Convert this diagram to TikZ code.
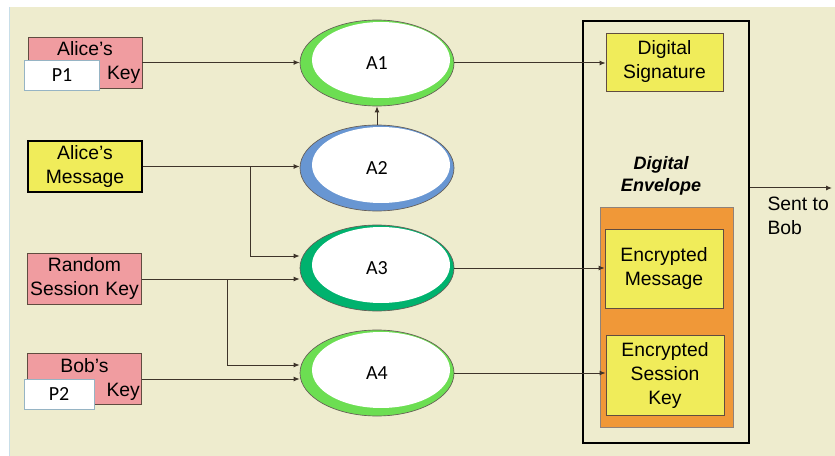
\documentclass[tikz,border=0pt]{standalone}
\usepackage{fontspec}
\setmainfont{Liberation Sans}
\newfontfamily\calfont{Carlito}
\usetikzlibrary{shapes.geometric,arrows.meta}

\definecolor{bgcream}{RGB}{238,236,206}
\definecolor{edgeblue}{RGB}{200,222,232}
\definecolor{keypink}{RGB}{240,156,160}
\definecolor{sigyellow}{RGB}{240,236,90}
\definecolor{envorange}{RGB}{240,152,56}
\definecolor{ringgreen}{RGB}{108,222,82}
\definecolor{ringteal}{RGB}{0,178,110}
\definecolor{ringblue}{RGB}{104,150,210}
\definecolor{boxline}{RGB}{96,76,64}
\definecolor{wireline}{RGB}{62,52,42}
\definecolor{pline}{RGB}{150,180,196}

\tikzset{every picture/.style={line width=0.75pt}}
\tikzset{
  lab/.style={font=\fontsize{14.5}{18}\selectfont},
  callab/.style={font=\fontsize{15}{18}\selectfont\calfont},
  keybox/.style={lab, draw=boxline, line width=0.6pt, fill=keypink, inner sep=1pt,
    align=center, text width=83pt, minimum width=85.5pt, minimum height=38.25pt},
  yelbox/.style={keybox, fill=sigyellow},
  pbox/.style={callab, draw=pline, fill=white, line width=0.75pt, inner sep=0pt,
    minimum width=56.25pt, minimum height=22.5pt},
  opnode/.style={callab, ellipse, draw=wireline!80, line width=0.5pt, fill=#1, inner sep=0pt,
    minimum width=115.5pt, minimum height=64.5pt,
    path picture={\fill[white] ([xshift=3pt,yshift=2.25pt]path picture bounding box.center)
      ellipse [x radius=51.75pt, y radius=28.5pt];}},
  wire/.style={draw=wireline, -{Latex[length=4.5pt,width=3.75pt]}}
}

\begin{document}
\begin{tikzpicture}[x=0.75pt,y=0.75pt,yscale=-1,xscale=1]
\useasboundingbox (0,0) rectangle (835,456);

%background
\fill[bgcream] (9,7) rectangle (835,456);
\draw[edgeblue, line width=1pt] (9.5,7) -- (9.5,456);

%inputs
\node[keybox] (akey) at (85,62.5) {Alice’s\\\hfill Key};
\node[pbox] (p1) at (62,75.5) {\raisebox{-3pt}{P1}};
\node[yelbox, draw=black, line width=1.5pt] (amsg) at (85,166.5) {Alice’s\\Message};
\node[keybox] (rkey) at (84.5,279) {Random\\Session Key};
\node[keybox] (bkey) at (84.5,379) {Bob’s\\\hfill Key};
\node[pbox, minimum width=52.5pt] (p2) at (59,394) {\raisebox{-3pt}{P2}};

%operations
\node[opnode=ringgreen] (a1) at (377,63) {A1};
\node[opnode=ringblue] (a2) at (377,168) {A2};
\node[opnode=ringteal] (a3) at (377,268) {A3};
\node[opnode=ringgreen] (a4) at (377,373) {A4};

%envelope
\node[draw=black, line width=1.5pt, minimum width=124.5pt, minimum height=316.5pt] (env) at (666,232) {};
\node[yelbox, minimum width=87.75pt, minimum height=43.5pt] (dsig) at (664.5,62) {Digital\\Signature};
\node[font=\bfseries\itshape\fontsize{13.5}{16.5}\selectfont, align=center, inner sep=0pt] (envlab) at (661,176) {Digital\\Envelope};
\node[draw=boxline!70, line width=0.5pt, fill=envorange, minimum width=99.75pt, minimum height=165pt] (orange) at (666.5,317) {};
\node[yelbox, minimum width=88.5pt, minimum height=59.25pt] (encmsg) at (664,268.5) {Encrypted\\Message};
\node[yelbox, minimum width=88.5pt, minimum height=60pt] (encsk) at (665,375) {Encrypted\\Session\\Key};

%connectors
\draw[wire] (akey.east) -- (akey.east -| a1.west);
\draw[wire] (a2) -- (a1);
\draw[wire] (amsg.east) -- (amsg.east -| a2.west);
\coordinate (jmsg) at ([xshift=80.25pt]amsg.east);
\draw[wire] (jmsg) |- ([shift={(0,-12)}]a3.west);
\draw[wire] (rkey.east) -- (rkey.east -| a3.west);
\coordinate (jrkey) at ([xshift=64.5pt]rkey.east);
\draw[wire] (jrkey) |- ([shift={(0,-8)}]a4.west);
\draw[wire] (bkey.east) -- (bkey.east -| a4.west);
\draw[wire] (a1.east) -- (a1.east -| dsig.west);
\draw[wire] (a3.east) -- (a3.east -| encmsg.west);
\draw[wire] (a4.east) -- (a4.east -| encsk.west);
\coordinate (bob) at (832,188);
\draw[wire] (env.east |- bob) -- (bob);
\node[lab, align=left, anchor=north west, inner sep=0pt] (sent) at (767,197) {Sent to\\Bob};

\end{tikzpicture}
\end{document}
